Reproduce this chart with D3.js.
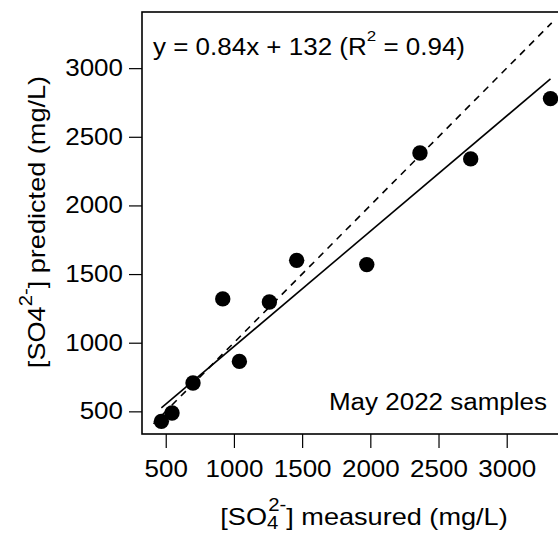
<!DOCTYPE html>
<html lang="en">
<head>
<meta charset="UTF-8">
<title>SO4 predicted vs measured</title>
<script src="https://d3js.org/d3.v7.min.js"></script>
<style>
  body { margin: 0; background: #fff; }
  text { font-family: "Liberation Sans", Arial, sans-serif; fill: #000; }
</style>
</head>
<body>
<script>
// measured vs predicted sulfate (mg/L)
var measured  = [468, 546, 700, 1040, 918, 1260, 1460, 1974, 2364, 2736, 3321];
var predicted = [427, 488, 707, 864, 1319, 1297, 1600, 1569, 2382, 2339, 2778];

// fit line and 1:1 reference line
var fitSlope = 0.84, fitIntercept = 132;
var oneToOne = [410, 3330];

var xTicks = [500, 1000, 1500, 2000, 2500, 3000];
var yTicks = [500, 1000, 1500, 2000, 2500, 3000];

var width = 558, height = 533;
var box = { left: 142, top: 12, right: 585, bottom: 434 };
var stretch = 1.13; // the source text is a little wider than Arial

var svg = d3.select("body").append("svg")
    .attr("width", width)
    .attr("height", height);

var x = d3.scaleLinear().domain([326, 3574]).range([box.left, box.right]);
var y = d3.scaleLinear().domain([335, 3409]).range([box.bottom, box.top]);

// place a text at (px, py) and widen it horizontally
function widen(sel, px, py) {
    sel.attr("x", 0).attr("y", 0)
        .attr("transform", "translate(" + px + "," + py + ") scale(" + stretch + ",1)");
    return sel;
}

// frame
svg.append("rect")
    .attr("x", box.left)
    .attr("y", box.top)
    .attr("width", box.right - box.left)
    .attr("height", box.bottom - box.top)
    .attr("fill", "none")
    .attr("stroke", "#000")
    .attr("stroke-width", 1.6);

// axes
var xAxis = svg.append("g")
    .attr("transform", "translate(0," + box.bottom + ")")
    .call(d3.axisBottom(x).tickValues(xTicks).tickSize(14).tickPadding(13).tickFormat(d3.format("d")));

var yAxis = svg.append("g")
    .attr("transform", "translate(" + box.left + ",0)")
    .call(d3.axisLeft(y).tickValues(yTicks).tickSize(13).tickPadding(6).tickFormat(d3.format("d")));

[xAxis, yAxis].forEach(function (a) {
    a.select(".domain").remove();
    a.selectAll(".tick line").attr("stroke", "#000").attr("stroke-width", 1.2);
    a.selectAll(".tick text")
        .attr("fill", "#000")
        .style("font-size", "23px")
        .style("font-family", "'Liberation Sans', Arial, sans-serif")
        .each(function () {
            var t = d3.select(this);
            widen(t, +t.attr("x") || 0, +t.attr("y") || 0);
        });
});

// 1:1 line
svg.append("line")
    .attr("x1", x(oneToOne[0])).attr("y1", y(oneToOne[0]))
    .attr("x2", x(oneToOne[1])).attr("y2", y(oneToOne[1]))
    .attr("stroke", "#000")
    .attr("stroke-width", 1.6)
    .attr("stroke-dasharray", "7,6");

// regression line over the measured range
var xMin = d3.min(measured), xMax = d3.max(measured);
svg.append("line")
    .attr("x1", x(xMin)).attr("y1", y(fitSlope * xMin + fitIntercept))
    .attr("x2", x(xMax)).attr("y2", y(fitSlope * xMax + fitIntercept))
    .attr("stroke", "#000")
    .attr("stroke-width", 1.6);

// points
svg.selectAll("circle.pt")
    .data(measured)
    .enter().append("circle")
    .attr("class", "pt")
    .attr("cx", function (d) { return x(d); })
    .attr("cy", function (d, i) { return y(predicted[i]); })
    .attr("r", 7.7)
    .attr("fill", "#000");

// equation
var eq = widen(svg.append("text"), 153, 55).style("font-size", "23px");
eq.append("tspan").text("y = 0.84x + 132 (R");
eq.append("tspan").attr("dy", -14).style("font-size", "15px").text("2");
eq.append("tspan").attr("dy", 14).text(" = 0.94)");

// sample label
widen(svg.append("text"), 547, 410)
    .attr("text-anchor", "end")
    .style("font-size", "23px")
    .text("May 2022 samples");

// x axis label
var xl = widen(svg.append("text"), 364, 525)
    .attr("text-anchor", "middle")
    .style("font-size", "24px");
xl.append("tspan").text("[SO");
xl.append("tspan").attr("dy", 4).style("font-size", "18px").text("4");
xl.append("tspan").attr("dx", -9).attr("dy", -18).style("font-size", "18px").text("2-");
xl.append("tspan").attr("dy", 14).text("] measured (mg/L)");

// y axis label
var yl = svg.append("text")
    .attr("transform", "translate(45,222) rotate(-90) scale(" + stretch + ",1)")
    .attr("text-anchor", "middle")
    .style("font-size", "24px");
yl.append("tspan").text("[SO4");
yl.append("tspan").attr("dy", -13).style("font-size", "18px").text("2-");
yl.append("tspan").attr("dy", 13).text("] predicted (mg/L)");
</script>
</body>
</html>
